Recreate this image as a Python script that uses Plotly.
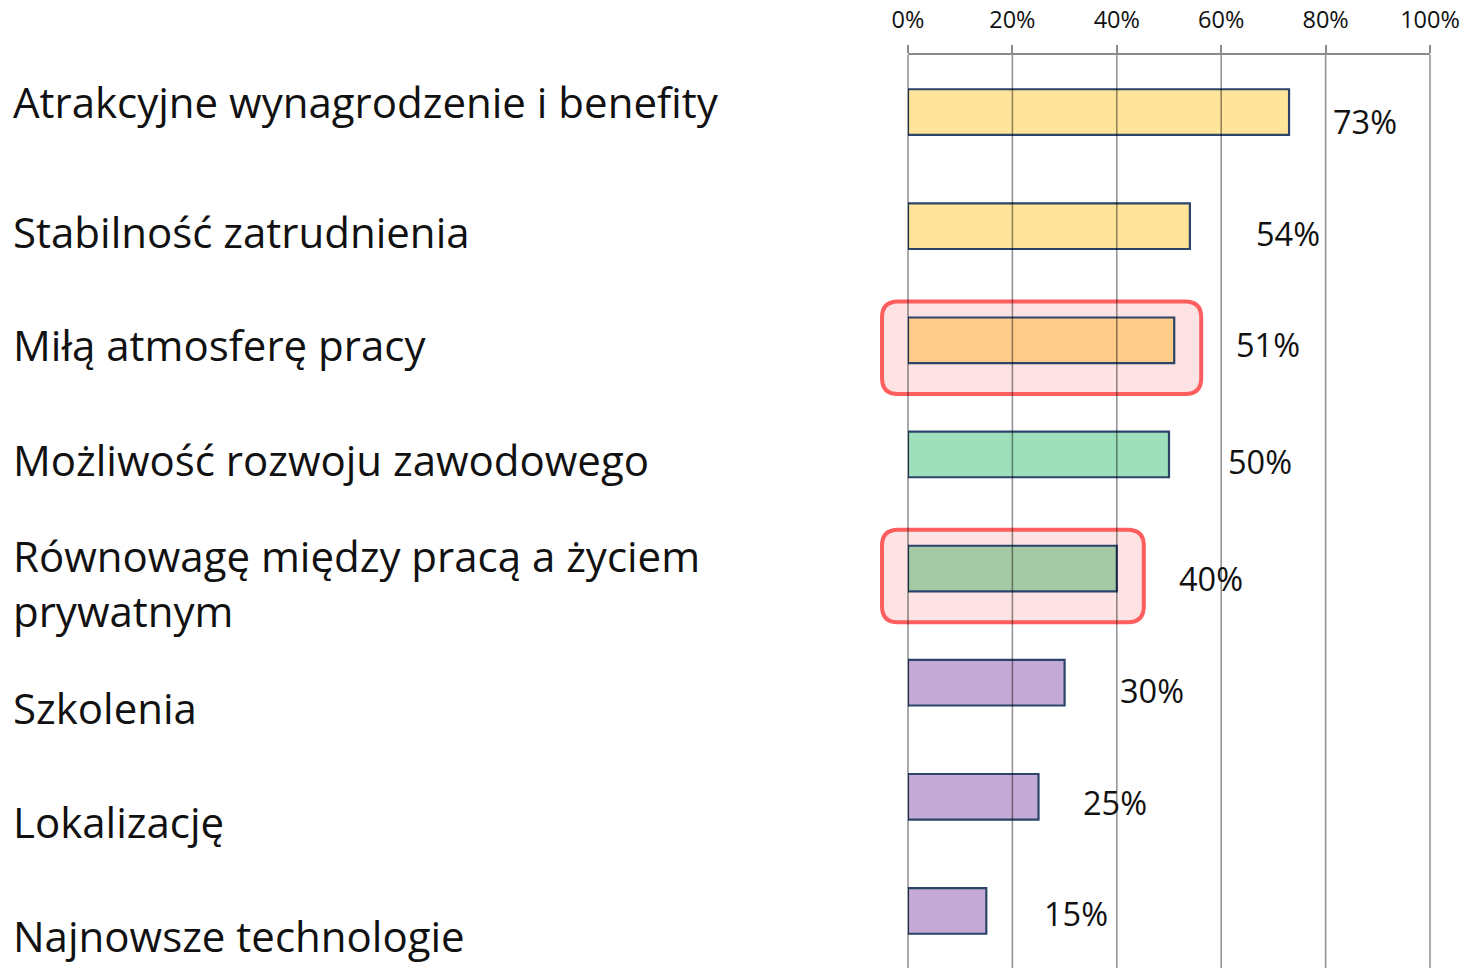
import plotly.graph_objects as go

categories = [
    "Atrakcyjne wynagrodzenie i benefity",
    "Stabilność zatrudnienia",
    "Miłą atmosferę pracy",
    "Możliwość rozwoju zawodowego",
    "Równowagę między pracą a życiem<br>prywatnym",
    "Szkolenia",
    "Lokalizację",
    "Najnowsze technologie",
]
values = [73, 54, 51, 50, 40, 30, 25, 15]
bar_colors = ["#FFE599", "#FFE599", "#FFCC8A", "#9EE0BB", "#A5C9A5", "#C5AAD7", "#C5AAD7", "#C5AAD7"]
highlighted = [2, 4]
tick_values = [0, 20, 40, 60, 80, 100]

# styling offsets (pixels)
value_xshift = [42, 64, 60, 57, 60, 53, 42, 56]
value_yshift = [-9, -7, -4, -7, -10, -8, -6, -3]
label_yshift = [11, -5, -4, -5, -14, -25, -25, -25]

W, H = 1463, 968
ML, MR, MT, MB = 908, 33, 55, 0
pw = W - ML - MR
ph = H - MT - MB
n = len(categories)
XR = [0, 100]
YR = [n - 0.5, -0.5]

def px(v):
    return (v - XR[0]) / (XR[1] - XR[0])

def py(v):
    return (v - YR[0]) / (YR[1] - YR[0])

idx = list(range(n))

fig = go.Figure()
fig.add_trace(go.Bar(
    x=values, y=idx, orientation="h", width=0.4,
    marker=dict(color=bar_colors, line=dict(color="#2B4468", width=2.2)),
    hoverinfo="skip",
))

shapes = []
# highlight boxes (rounded rectangles), in paper coords
for i in highlighted:
    x0 = px(0) - 26 / pw
    x1 = px(values[i]) + 27 / pw
    y0 = py(i + 0.47)
    y1 = py(i - 0.34)
    rx = 16 / pw
    ry = 16 / ph
    path = (f"M {x0+rx},{y0} L {x1-rx},{y0} Q {x1},{y0} {x1},{y0+ry} "
            f"L {x1},{y1-ry} Q {x1},{y1} {x1-rx},{y1} L {x0+rx},{y1} "
            f"Q {x0},{y1} {x0},{y1-ry} L {x0},{y0+ry} Q {x0},{y0} {x0+rx},{y0} Z")
    shapes.append(dict(type="path", path=path, xref="paper", yref="paper",
                       fillcolor="#FDE3E3", line=dict(color="#FF5E5E", width=4),
                       layer="below"))
# gridlines above traces
for t in tick_values:
    shapes.append(dict(type="line", xref="paper", yref="paper",
                       x0=px(t), x1=px(t), y0=0, y1=1,
                       line=dict(color="rgba(0,0,0,0.42)", width=1.6), layer="above"))

annotations = []
for i, (c, v) in enumerate(zip(categories, values)):
    annotations.append(dict(
        x=(11 - ML) / pw, xref="paper", y=i, yref="y", text=c,
        xanchor="left", yanchor="middle", align="left", showarrow=False,
        yshift=label_yshift[i],
        font=dict(family="Open Sans", size=42, color="#111111"),
    ))
    annotations.append(dict(
        x=v, xref="x", y=i, yref="y", text=f"{v}%",
        xanchor="left", yanchor="middle", showarrow=False,
        xshift=value_xshift[i], yshift=value_yshift[i],
        font=dict(family="Open Sans", size=32.5, color="#111111"),
    ))

fig.update_layout(
    width=W, height=H,
    margin=dict(l=ML, r=MR, t=MT, b=MB, pad=0),
    paper_bgcolor="white", plot_bgcolor="rgba(0,0,0,0)",
    showlegend=False,
    shapes=shapes, annotations=annotations,
    xaxis=dict(range=XR, side="top", tickvals=tick_values,
               ticktext=[f"{t}%" for t in tick_values],
               showgrid=False, zeroline=False,
               showline=True, linecolor="#8C8C8C", linewidth=1.6,
               ticks="outside", ticklen=8, tickcolor="#8C8C8C", tickwidth=1.6,
               ticklabelstandoff=8,
               tickfont=dict(family="Open Sans", size=23.5, color="#111111"),
               fixedrange=True),
    yaxis=dict(range=YR, showgrid=False, zeroline=False, showline=False,
               showticklabels=False, ticks="", fixedrange=True),
)

fig.write_html(
    "out.html",
    config={"displayModeBar": False},
    post_script="document.body.style.margin='0';document.body.style.overflow='hidden';",
)
